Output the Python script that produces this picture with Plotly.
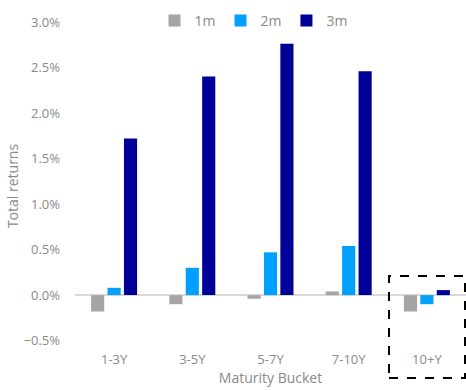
import plotly.graph_objects as go

categories = ["1-3Y", "3-5Y", "5-7Y", "7-10Y", "10+Y"]
series_names = ["1m", "2m", "3m"]
ret_1m = [-0.18, -0.10, -0.04, 0.04, -0.18]
ret_2m = [0.08, 0.30, 0.47, 0.54, -0.10]
ret_3m = [1.72, 2.40, 2.76, 2.46, 0.055]
colors = ["#A5A5A5", "#00A0FF", "#000099"]

W, H = 466, 390
PT, PB, PL, PR = 22, 350, 75, 466
PH, PW = PB - PT, PR - PL
font = dict(family="Open Sans", size=13, color="#8a8a8a")
tfont = dict(family="Open Sans", size=14, color="#8a8a8a")

fig = go.Figure()
for name, vals, col in zip(series_names, [ret_1m, ret_2m, ret_3m], colors):
    fig.add_trace(go.Bar(x=categories, y=vals, name=name, marker_color=col,
                         marker_line_width=0))

fig.update_layout(
    width=W, height=H,
    margin=dict(l=PL, r=W - PR, t=PT, b=H - PB, autoexpand=False),
    plot_bgcolor="white", paper_bgcolor="white",
    font=font,
    barmode="group", bargap=0.37, bargroupgap=0.2,
    legend=dict(orientation="h", x=0.4566, xanchor="center",
                y=(PB - 21) / PH, yanchor="middle",
                font=tfont, itemwidth=30, bgcolor="rgba(0,0,0,0)", borderwidth=0),
    xaxis=dict(showgrid=False, showline=False, ticks="", tickfont=font,
               title=dict(text="Maturity Bucket", font=tfont, standoff=2)),
    yaxis=dict(range=[-0.603, 3.0], dtick=0.5, tick0=0,
               tickformat=".1f", ticksuffix="%",
               showgrid=False, zeroline=True, zerolinecolor="#D9D9D9", zerolinewidth=2,
               showline=False, ticks="", tickfont=font, ticklabelstandoff=14,
               title=dict(text="Total returns", font=tfont, standoff=1)),
)

fig.add_shape(type="rect", xref="paper", yref="paper",
              x0=(389 - PL) / PW, x1=(465 - PL) / PW,
              y0=(PB - 378) / PH, y1=(PB - 276) / PH,
              line=dict(color="black", width=2, dash="dash"), fillcolor="rgba(0,0,0,0)")

fig.write_html("out.html")
